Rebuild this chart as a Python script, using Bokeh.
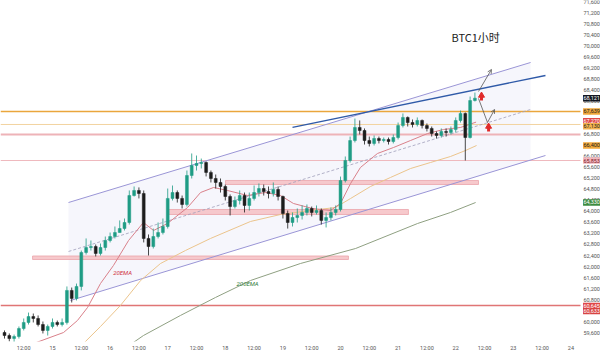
from bokeh.plotting import figure
from bokeh.models import (ColumnDataSource, FixedTicker, Arrow, OpenHead)
from bokeh.embed import file_html
from bokeh.resources import INLINE
from bokeh.core.properties import value

# ---------------- data (hours from day "15" 00:00, 2-hour candles) ----------------
hours = list(range(-20, 177, 2))
first_open = 59600
close = [59490, 59380, 59455, 59745, 59965, 60180, 60110, 59890, 59675, 59820,
         59965, 59890, 59965, 61130, 60840, 61275, 62510, 62690, 62725, 62475,
         62690, 62945, 63090, 63235, 63380, 63600, 64580, 64765, 64655, 63020,
         62725, 63090, 63235, 63455, 64475, 64690, 64475, 64255, 65310, 65675,
         65745, 65780, 65420, 65200, 65055, 64910, 64545, 64180, 64400, 64580,
         64220, 64475, 64690, 64835, 64725, 64655, 64800, 64545, 63925, 63600,
         63780, 63855, 63965, 64110, 63965, 64035, 63675, 63780, 63965, 64075,
         65125, 65855, 66580, 67055, 66945, 66580, 66475, 66655, 66580, 66620,
         66545, 66690, 67125, 67420, 67235, 67165, 67310, 67125, 67020, 66835,
         66765, 66910, 66875, 66980, 67310, 67565, 66690, 68035, 68121]
high = [59675, 59565, 59525, 59820, 60110, 60325, 60290, 60220, 60000, 59890,
        60110, 60035, 60110, 61275, 61235, 61380, 62580, 63020, 62945, 62800,
        62835, 63090, 63235, 63455, 63675, 63745, 64765, 64910, 64875, 64765,
        63165, 63380, 63600, 63745, 64835, 64945, 64765, 64580, 65490, 66110,
        66035, 65925, 65820, 65490, 65345, 65200, 64980, 64620, 64545, 64765,
        64690, 64690, 64945, 65020, 64980, 64910, 65055, 64910, 64580, 64035,
        63965, 64110, 64220, 64255, 64180, 64220, 64110, 63965, 64145, 64220,
        65270, 66000, 66725, 67380, 67310, 67020, 66725, 66765, 66725, 66690,
        66690, 66800, 67235, 67565, 67455, 67345, 67420, 67345, 67200, 67090,
        66910, 67020, 67020, 67090, 67420, 67670, 67600, 68180, 68325]
low = [59380, 59275, 59235, 59380, 59675, 59890, 59965, 59820, 59565, 59490,
       59745, 59820, 59820, 59890, 60690, 60765, 61130, 62435, 62580, 62365,
       62400, 62580, 62875, 63020, 63235, 63310, 63525, 64545, 64475, 62875,
       62400, 62655, 63020, 63165, 63380, 64400, 64325, 64110, 64180, 65200,
       65490, 65565, 65275, 65055, 64835, 64690, 64400, 63855, 64110, 64255,
       63965, 64035, 64400, 64545, 64580, 64475, 64545, 64400, 63745, 63380,
       63455, 63600, 63710, 63855, 63820, 63890, 63525, 63420, 63675, 63855,
       64000, 65055, 65780, 66510, 66800, 66435, 66365, 66400, 66475, 66510,
       66435, 66475, 66620, 67055, 67090, 67055, 67090, 67020, 66910, 66725,
       66655, 66690, 66725, 66800, 66875, 67235, 65855, 66655, 68000]

# moving averages
ema20_h = [-7.9, 4.6, 10.4, 14.6, 20, 25.4, 31.7, 37.9, 42.1, 47.9, 56.3, 61.7, 67.1, 72.9,
           81.3, 88.8, 95, 100.4, 108.3, 115.8, 120, 124.2, 128.3, 135.4, 142.1, 149.2,
           156.3, 162.9, 170, 176.5]
ema20_v = [59200, 59600, 60037, 60510, 61382, 62037, 62946, 63600, 63309, 63564, 64146,
           64691, 64873, 64764, 64582, 64691, 64582, 64291, 64109, 64036, 64291, 65018,
           65600, 66109, 66327, 66582, 66836, 66982, 67055, 67250]
ema50_h = [10.8, 20, 28.3, 36.7, 45, 55.4, 65.8, 82.5, 95, 107.5, 117.9, 124.2, 132.5,
           140.8, 149.2, 157.5, 165.8, 172.1, 176.7]
ema50_v = [59019, 59819, 60582, 61491, 62109, 62582, 63018, 63637, 63891, 64036, 64146,
           64473, 64909, 65236, 65563, 65782, 65999, 66218, 66400]
ema200_h = [27.1, 37.9, 53.3, 67.9, 82.5, 103.3, 126.3, 152.1, 165.8, 176.3]
ema200_v = [58837, 59491, 60219, 60873, 61491, 62109, 62655, 63563, 63963, 64327]

# horizontal levels
level_prices = [67636, 67164, 66800, 65855, 60582]
level_colors = ["#eaa63c", "#f2d3a0", "#eeb3b8", "#efb9be", "#e07575"]
level_widths = [1.5, 1, 2.2, 1.2, 1.5]

# supply / demand zones
zone_left = [72.1, 48.3, -8.3]
zone_right = [177.5, 148.3, 123.3]
zone_bottom = [64982, 63891, 62255]
zone_top = [65128, 64073, 62382]

# parallel channel
chan_upper_h = [6.67, 199.2]
chan_upper_v = [64327, 69418]
chan_lower_h = [7.5, 205.4]
chan_lower_v = [60764, 66036]
chan_mid_h = [6.67, 199.2]
chan_mid_v = [62546, 67709]
chan_fill_h = [6.67, 199.2, 199.2, 6.67]
chan_fill_v = [64327, 69418, 65865, 60742]

# blue trend line
trend_h = [100, 205.4]
trend_v = [67055, 68945]

# projection arrows
up_path_h = [177.5, 182.9]
up_path_v = [68364, 69164]
down_path_h = [177.5, 181.25, 184.2]
down_path_v = [68109, 67236, 67709]
red_arrow_h = [178.75, 181.7]
red_arrow_v = [68218, 67091]
red_stem_bottom = [68036, 66909]

# right price-scale badges
badge_vals = [68121, 67636, 67280, 67100, 66400, 65850, 64330, 60560, 60380]
badge_text = ["68,121", "67,639", "67,270", "67,130", "66,400", "65,853", "64,330", "60,645", "60,633"]
badge_bg = ["#131722", "#f0a73a", "#e04848", "#f3b24e", "#f2a93b", "#f3b7bd", "#3d8b40", "#e04848", "#d84343"]
badge_fg = ["#ffffff", "#222222", "#ffffff", "#222222", "#222222", "#7a2028", "#ffffff", "#ffffff", "#ffffff"]

price_ticks = list(range(59600, 71601, 400))
price_tick_text = ["{:,}".format(v) for v in price_ticks]
time_ticks = list(range(-12, 217, 12))
time_labels = ["12:00", "15", "12:00", "16", "12:00", "17", "12:00", "18", "12:00", "19",
               "12:00", "20", "12:00", "21", "12:00", "22", "12:00", "23", "12:00", "24"]

# ---------------- layout constants ----------------
X0, X_CHART_END, X1 = -21.67, 220.0, 228.33   # left edge, end of chart pane, end of price scale
SCALE_TEXT_X, BADGE_X = 221.2, 224.6

p = figure(width=600, height=354, x_range=(X0, X1), y_range=(59273, 71672),
           output_backend="svg", toolbar_location=None, y_axis_location=None,
           min_border_left=0, min_border_top=0, min_border_right=0, min_border_bottom=13)
p.outline_line_color = None
p.grid.visible = False
p.background_fill_color = "white"
p.border_fill_color = "white"

# channel fill
p.patch(chan_fill_h, chan_fill_v, fill_color="#ecebf8", fill_alpha=0.45, line_color=None)

# horizontal levels (chart pane only)
for lv, lc, lw in zip(level_prices, level_colors, level_widths):
    p.line([X0, X_CHART_END], [lv, lv], line_color=lc, line_width=lw)

# zones
p.quad(left=zone_left, right=zone_right, bottom=zone_bottom, top=zone_top,
       fill_color="#f6c3c7", fill_alpha=0.9, line_color="#eba3aa", line_width=0.8)

# channel lines
p.line(chan_upper_h, chan_upper_v, line_color="#9a95d6", line_width=1)
p.line(chan_lower_h, chan_lower_v, line_color="#9a95d6", line_width=1)
p.line(chan_mid_h, chan_mid_v, line_color="#a09eba", line_width=0.8, line_dash="3 2")

# EMAs
p.line(ema200_h, ema200_v, line_color="#8fa082", line_width=1)
p.line(ema50_h, ema50_v, line_color="#ebc48c", line_width=1)
p.line(ema20_h, ema20_v, line_color="#d9808a", line_width=1)

# trend line
p.line(trend_h, trend_v, line_color="#2f5aa8", line_width=1.3)

# candles
opens = [first_open] + close[:-1]
up = [c >= o for o, c in zip(opens, close)]
colors = ["#1f9c85" if u else "#1c1c1c" for u in up]
src = ColumnDataSource(dict(x=hours, o=opens, c=close, h=high, l=low, col=colors,
                            top=[max(o, c) for o, c in zip(opens, close)],
                            bot=[min(o, c) for o, c in zip(opens, close)]))
p.segment(x0="x", x1="x", y0="l", y1="h", line_color="col", line_width=0.8, source=src)
p.vbar(x="x", width=1.2, top="top", bottom="bot", fill_color="col", line_color="col",
       line_width=0.5, source=src)

# projection arrows
p.line(down_path_h[:2], down_path_v[:2], line_color="#555555", line_width=0.8)
p.add_layout(Arrow(x_start=down_path_h[1], y_start=down_path_v[1], x_end=down_path_h[2],
                   y_end=down_path_v[2], line_color="#555555", line_width=0.8,
                   end=OpenHead(size=4, line_color="#555555", line_width=0.8)))
p.add_layout(Arrow(x_start=up_path_h[0], y_start=up_path_v[0], x_end=up_path_h[1],
                   y_end=up_path_v[1], line_color="#555555", line_width=0.8,
                   end=OpenHead(size=4, line_color="#555555", line_width=0.8)))
p.segment(x0=red_arrow_h, x1=red_arrow_h, y0=red_stem_bottom, y1=red_arrow_v,
          line_color="#e02b2b", line_width=3)
p.scatter(red_arrow_h, red_arrow_v, marker="triangle", size=6, fill_color="#e02b2b",
          line_color="#e02b2b")

# texts
p.text(x=[29.2], y=[61782], text=["20EMA"], text_font=value("Roboto"), text_font_size="6px",
       text_font_style="italic", text_color="#d0323f", text_align="center", text_baseline="middle")
p.text(x=[81.3], y=[61382], text=["200EMA"], text_font=value("Roboto"), text_font_size="6px",
       text_font_style="italic", text_color="#2f7d3a", text_align="center", text_baseline="middle")
p.text(x=[176.3], y=[70327], text=["BTC1小时"], text_font=value("Noto Sans CJK SC"),
       text_font_size="11px", text_color="#222222", text_align="center", text_baseline="middle")

# price scale (tick labels placed through the y scale)
p.text(x=[SCALE_TEXT_X] * len(price_ticks), y=price_ticks, text=price_tick_text,
       text_font=value("Roboto"), text_font_size="5.5px", text_color="#555555",
       text_align="left", text_baseline="middle")
# badges on the price scale
p.rect(x=[BADGE_X] * len(badge_vals), y=badge_vals, width=17, height=6.5,
       width_units="screen", height_units="screen", fill_color=badge_bg, line_color=None)
p.text(x=[SCALE_TEXT_X] * len(badge_vals), y=badge_vals, text=badge_text,
       text_font=value("Roboto"), text_font_size="5.5px", text_color=badge_fg,
       text_align="left", text_baseline="middle")

# time axis
xa = p.xaxis[0]
xa.ticker = FixedTicker(ticks=time_ticks)
xa.major_label_overrides = {t: s for t, s in zip(time_ticks, time_labels)}
xa.axis_line_color = None
xa.major_tick_line_color = None
xa.minor_tick_line_color = None
xa.major_tick_out = 0
xa.major_tick_in = 0
xa.minor_tick_out = 0
xa.major_label_text_font = "Roboto"
xa.major_label_text_font_size = "5.5px"
xa.major_label_text_color = "#555555"
xa.major_label_standoff = 3

open("out.html", "w").write(file_html(p, INLINE))
